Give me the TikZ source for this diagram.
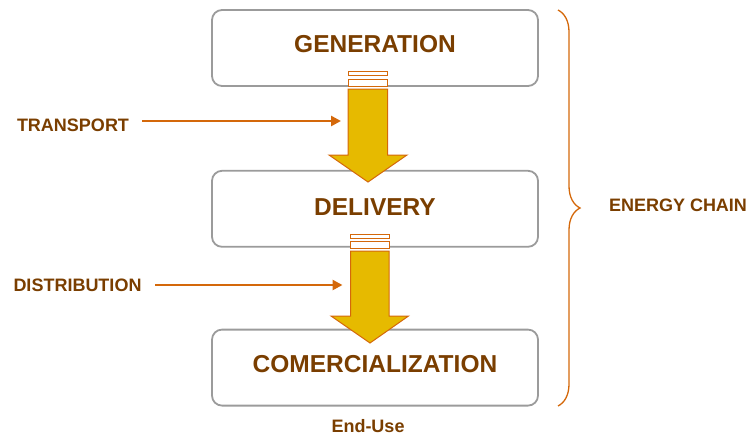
\documentclass[tikz,border=0pt]{standalone}
\usepackage{fontspec}
\setmainfont{Liberation Sans}
\usepackage{xcolor}
\usepackage{tikz}
\usetikzlibrary{arrows.meta,positioning,decorations.pathreplacing}
\definecolor{chain}{RGB}{122,62,0}
\definecolor{link}{RGB}{212,104,10}
\definecolor{gold}{RGB}{230,186,0}
\definecolor{frame}{RGB}{155,155,155}

\begin{document}
\begin{tikzpicture}[
  x=1pt,y=-1pt,
  stage/.style={rectangle,draw=frame,line width=1.8pt,rounded corners=10pt,minimum width=326pt,minimum height=76pt,text depth=8pt,font=\fontsize{24.5}{28}\selectfont\bfseries,text=chain},
  lbl/.style={font=\fontsize{18}{20}\selectfont\bfseries,text=chain,inner sep=0pt},
  feed/.style={-{Triangle[length=10pt,width=10pt]},draw=link,line width=2.5pt},
  flow/.style={draw=link,fill=gold,line width=1pt,line join=miter},
  slot/.style={draw=link,fill=white,line width=1pt}
]
  \useasboundingbox (0,0) rectangle (751,437);
  \node[stage] (gen) at (375,48) {GENERATION};
  \node[stage,below=83pt of gen,text depth=3pt] (del) {DELIVERY};
  \node[stage,below=81pt of del] (com) {COMERCIALIZATION};
  \node[lbl] (enduse) at (368,426) {End-Use};

  % flow arrows between stages
  \draw[slot] (348,71.5) rectangle (387.5,75);
  \draw[slot] (348,79) rectangle (387.5,86);
  \draw[flow] (348,89) -- (387.5,89) -- (387.5,155) -- (407,155) -- (368,182) -- (329,155) -- (348,155) -- cycle;
  \coordinate (intoA) at (348,121);
  \draw[slot] (350.5,234) rectangle (389,238);
  \draw[slot] (350.5,241) rectangle (389,248);
  \draw[flow] (350.5,251) -- (389,251) -- (389,316) -- (408.5,316) -- (370,343) -- (331,316) -- (350.5,316) -- cycle;
  \coordinate (intoB) at (350.5,285);

  \node[lbl] (transport) at (73,125) {TRANSPORT};
  \node[lbl] (distrib) at (77.5,285) {DISTRIBUTION};
  \draw[feed,shorten <=13pt,shorten >=7pt] ([yshift=4pt]transport.east) -- (intoA);
  \draw[feed,shorten <=13.5pt,shorten >=8pt] (distrib.east) -- (intoB);

  % brace over the whole chain
  \coordinate (btop) at (558,10);
  \coordinate (bbot) at (558,406);
  \draw[link,line width=1.3pt,decorate,decoration={brace,amplitude=22pt}] (btop) -- (bbot);
  \node[lbl] (energy) at (678,205) {ENERGY CHAIN};
\end{tikzpicture}
\end{document}
